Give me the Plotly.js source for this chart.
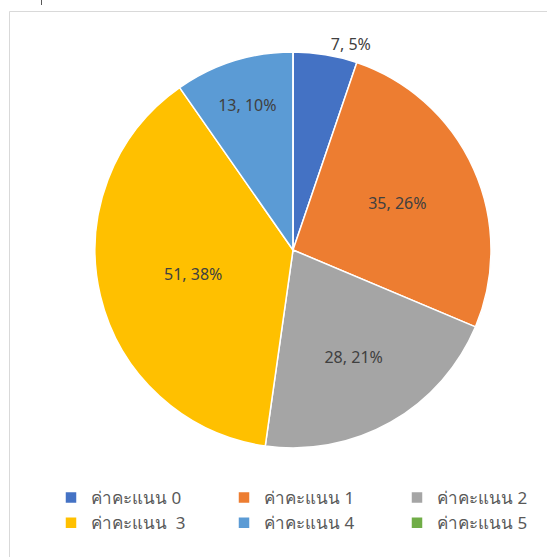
<!DOCTYPE html>
<html>
<head>
<meta charset="utf-8">
<script src="https://cdn.plot.ly/plotly-3.0.1.min.js"></script>
<style>html,body{margin:0;padding:0;background:#fff;}#chart{width:547px;height:557px;}</style>
</head>
<body>
<div id="chart"></div>
<script>
const labels = ["ค่าคะแนน 0", "ค่าคะแนน 1", "ค่าคะแนน 2", "ค่าคะแนน  3", "ค่าคะแนน 4", "ค่าคะแนน 5"];
const values = [7, 35, 28, 51, 13, 0];
const colors = ["#4472C4", "#ED7D31", "#A5A5A5", "#FFC000", "#5B9BD5", "#70AD47"];
const textPositions = ["outside", "inside", "inside", "inside", "inside", "none"];

const W = 547, H = 557;
const cx = 293, cy = 250, r = 198;

const trace = {
  type: "pie",
  labels: labels,
  values: values,
  sort: false,
  direction: "clockwise",
  rotation: 0,
  marker: {colors: colors, line: {color: "#ffffff", width: 1.5}},
  texttemplate: "%{value}, %{percent:.0%}",
  textposition: textPositions,
  insidetextorientation: "horizontal",
  textfont: {family: "Noto Sans, sans-serif", size: 16, color: "#404040"},
  insidetextfont: {family: "Noto Sans, sans-serif", size: 16, color: "#404040"},
  outsidetextfont: {family: "Noto Sans, sans-serif", size: 16, color: "#404040"},
  hoverinfo: "label+value+percent",
  domain: {x: [(cx - r) / W, (cx + r) / W], y: [(H - cy - r) / H, (H - cy + r) / H]},
  automargin: false
};

const layout = {
  width: W, height: H,
  margin: {l: 0, r: 0, t: 0, b: 0, autoexpand: false},
  paper_bgcolor: "#ffffff",
  showlegend: true,
  legend: {
    orientation: "h",
    x: 51 / W, xanchor: "left",
    y: (H - 480) / H, yanchor: "top",
    entrywidth: 128, entrywidthmode: "pixels",
    font: {family: "Noto Sans, sans-serif", size: 17, color: "#595959"},
    itemclick: false, itemdoubleclick: false,
    tracegroupgap: 0
  },
  shapes: [
    {type: "rect", xref: "paper", yref: "paper", x0: 9.5 / W, x1: 1.02, y0: -0.02, y1: (H - 11.5) / H,
     line: {color: "#D9D9D9", width: 1}, fillcolor: "rgba(0,0,0,0)", layer: "below"},
    {type: "line", xref: "paper", yref: "paper", x0: 41.5 / W, x1: 41.5 / W, y0: (H - 5) / H, y1: 1,
     line: {color: "#595959", width: 1}}
  ]
};

Plotly.newPlot("chart", [trace], layout, {displayModeBar: false, staticPlot: false});
</script>
</body>
</html>
